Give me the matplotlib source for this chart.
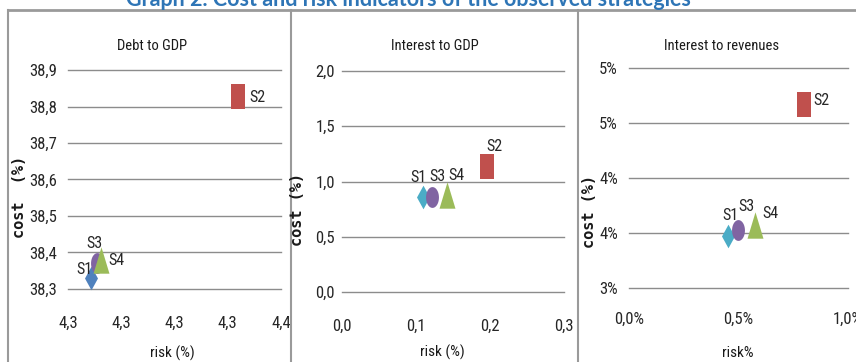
import matplotlib
matplotlib.use("Agg")
import matplotlib.pyplot as plt
import numpy as np
from matplotlib import font_manager
from matplotlib.font_manager import FontProperties
from matplotlib.lines import Line2D

# ---- data -------------------------------------------------------------
strategies = ["S1", "S2", "S3", "S4"]

debt_risk = [4.3144, 4.3420, 4.3154, 4.3162]
debt_cost = [38.33, 38.83, 38.37, 38.38]

int_gdp_risk = [0.109, 0.196, 0.121, 0.142]
int_gdp_cost = [0.86, 1.14, 0.86, 0.88]

int_rev_risk = [0.453, 0.800, 0.498, 0.577]
int_rev_cost = [3.47, 4.67, 3.53, 3.57]

debt_xticks = [4.31, 4.32, 4.33, 4.34, 4.35]
debt_xlabels = ["4,3", "4,3", "4,3", "4,3", "4,4"]
debt_yticks = [38.3, 38.4, 38.5, 38.6, 38.7, 38.8, 38.9]
debt_ylabels = ["38,3", "38,4", "38,5", "38,6", "38,7", "38,8", "38,9"]

gdp_xticks = [0.0, 0.1, 0.2, 0.3]
gdp_xlabels = ["0,0", "0,1", "0,2", "0,3"]
gdp_yticks = [0.0, 0.5, 1.0, 1.5, 2.0]
gdp_ylabels = ["0,0", "0,5", "1,0", "1,5", "2,0"]

rev_xticks = [0.0, 0.5, 1.0]
rev_xlabels = ["0,0%", "0,5%", "1,0%"]
rev_yticks = [3.0, 3.5, 4.0, 4.5, 5.0]
rev_ylabels = ["3%", "4%", "4%", "5%", "5%"]


# ---- fonts: prefer a narrow sans face ---------------------------------
def narrow_font_file():
    fl = font_manager.fontManager.ttflist
    for f in fl:
        if f.name == "Liberation Sans Narrow" and f.weight in (400, "normal", "regular") \
                and f.style == "normal":
            return f.fname
    for fam in ("Roboto Condensed", "Open Sans Condensed", "Noto Sans", "DejaVu Sans",
                "Open Sans", "Roboto"):
        for f in fl:
            if f.name == fam and f.style == "normal" and \
                    str(f.stretch) in ("condensed", "semi-condensed", "extra-condensed") \
                    and f.weight in (400, "normal", "regular"):
                return f.fname
    return None


_nf = narrow_font_file()


def nfont(size):
    if _nf:
        return FontProperties(fname=_nf, size=size)
    return FontProperties(family="Roboto", size=size * 0.9)


installed = {f.name for f in font_manager.fontManager.ttflist}
TITLE_FONT = "Lato" if "Lato" in installed else "DejaVu Sans"

W, H = 856, 362
fig = plt.figure(figsize=(W / 100, H / 100), dpi=100)
fig.patch.set_facecolor("white")


def px_axes(x0, y0, x1, y1):
    """Axes placed by pixel box (top-left origin)."""
    return fig.add_axes([x0 / W, 1 - y1 / H, (x1 - x0) / W, (y1 - y0) / H])


# ---- outer frame ------------------------------------------------------
frame_col = "#9a9a9a"
fig.add_artist(Line2D([8 / W, 1], [1 - 10 / H] * 2, color=frame_col, lw=2.0,
                      transform=fig.transFigure))
for xv in (8, 291, 578):
    fig.add_artist(Line2D([xv / W] * 2, [0, 1 - 10 / H], color=frame_col, lw=1.5,
                          transform=fig.transFigure))

fig.text(408 / W, 1 - 6 / H,
         "Graph 2. Cost and risk indicators of the observed strategies",
         ha="center", va="baseline", color="#2E75B6", fontsize=15.5,
         fontweight="bold", family=TITLE_FONT)

# ---- marker shapes (tall, narrow) -------------------------------------
a = 0.55
m_diamond = [(0, -0.5), (a / 2, 0), (0, 0.5), (-a / 2, 0), (0, -0.5)]
m_square = [(-a / 2, -0.5), (a / 2, -0.5), (a / 2, 0.5), (-a / 2, 0.5), (-a / 2, -0.5)]
m_tri = [(-a / 2 * 1.1, -0.5), (a / 2 * 1.1, -0.5), (0, 0.5), (-a / 2 * 1.1, -0.5)]
_t = np.linspace(0, 2 * np.pi, 40)
m_ellipse = list(zip(0.5 * 0.62 * np.cos(_t), 0.5 * np.sin(_t)))

marker_for = {"S1": m_diamond, "S2": m_square, "S3": m_ellipse, "S4": m_tri}
msize_for = {"S1": 17, "S2": 18, "S3": 15, "S4": 19}

col_red = "#C0504D"
col_purple = "#8064A2"
col_green = "#9BBB59"

panels = [
    dict(box=(68, 70, 281, 289), title="Debt to GDP", title_x=152,
         x=debt_risk, y=debt_cost,
         xt=debt_xticks, xl=debt_xlabels, yt=debt_yticks, yl=debt_ylabels,
         colors={"S1": "#4F81BD", "S2": col_red, "S3": col_purple, "S4": col_green},
         offsets={"S1": (-7, -8.5), "S2": (19, 2), "S3": (-2, -20), "S4": (15, 1)},
         ylab="cost  (%)", ylab_x=20, ylab_y=197,
         xlab="risk (%)", xlab_x=172, xlab_y=353, ypad=8, xpad=19),
    dict(box=(342, 71, 564, 292), title="Interest to GDP", title_x=435,
         x=int_gdp_risk, y=int_gdp_cost,
         xt=gdp_xticks, xl=gdp_xlabels, yt=gdp_yticks, yl=gdp_ylabels,
         colors={"S1": "#4BACC6", "S2": col_red, "S3": col_purple, "S4": col_green},
         offsets={"S1": (-4, -19), "S2": (7, -19.5), "S3": (6, -20), "S4": (9, -19.5)},
         ylab="cost (%)", ylab_x=297, ylab_y=209,
         xlab="risk (%)", xlab_x=442, xlab_y=352, ypad=5, xpad=19),
    dict(box=(629, 68, 848, 288), title="Interest to revenues", title_x=722,
         x=int_rev_risk, y=int_rev_cost,
         xt=rev_xticks, xl=rev_xlabels, yt=rev_yticks, yl=rev_ylabels,
         colors={"S1": "#4BACC6", "S2": col_red, "S3": col_purple, "S4": col_green},
         offsets={"S1": (2, -20.5), "S2": (17, -4), "S3": (8.5, -23.5), "S4": (15, -11.5)},
         ylab="cost (%)", ylab_x=590, ylab_y=211,
         xlab="risk%", xlab_x=738, xlab_y=353, ypad=8, xpad=17),
]

tick_col = "#262626"
for p in panels:
    ax = px_axes(*p["box"])
    ax.set_facecolor("none")
    for s in ax.spines.values():
        s.set_visible(False)
    ax.set_xlim(p["xt"][0], p["xt"][-1])
    ax.set_ylim(p["yt"][0], p["yt"][-1])
    ax.set_xticks(p["xt"])
    ax.set_xticklabels(p["xl"])
    ax.set_yticks(p["yt"])
    ax.set_yticklabels(p["yl"])
    ax.tick_params(length=0, colors=tick_col)
    ax.tick_params(axis="y", pad=p["ypad"])
    ax.tick_params(axis="x", pad=p["xpad"])
    for lab in ax.get_xticklabels() + ax.get_yticklabels():
        lab.set_fontproperties(nfont(12))
    for yv in p["yt"]:
        ax.axhline(yv, color="#8c8c8c", lw=1.0, clip_on=False, zorder=1)

    for i, s in enumerate(strategies):
        ax.plot(p["x"][i], p["y"][i], linestyle="none", marker=marker_for[s],
                markersize=msize_for[s], color=p["colors"][s],
                markeredgewidth=0, zorder=3, clip_on=False)
        dx, dy = p["offsets"][s]
        ax.annotate(s, (p["x"][i], p["y"][i]), xytext=(dx * 0.72, -dy * 0.72),
                    textcoords="offset points", ha="center", va="center",
                    fontproperties=nfont(11.5), color="#262626", zorder=4,
                    annotation_clip=False)

    fig.text(p["title_x"] / W, 1 - 46 / H, p["title"], ha="center", va="center",
             fontproperties=nfont(10.5), color="#1a1a1a")
    fig.text(p["ylab_x"] / W, 1 - p["ylab_y"] / H, p["ylab"], rotation=90,
             ha="center", va="center", fontsize=11, fontweight="bold",
             family="DejaVu Sans Mono", color="#1a1a1a")
    fig.text(p["xlab_x"] / W, 1 - p["xlab_y"] / H, p["xlab"], ha="center",
             va="center", fontproperties=nfont(11), color="#1a1a1a")

fig.savefig("out.png", dpi=100, facecolor="white")
